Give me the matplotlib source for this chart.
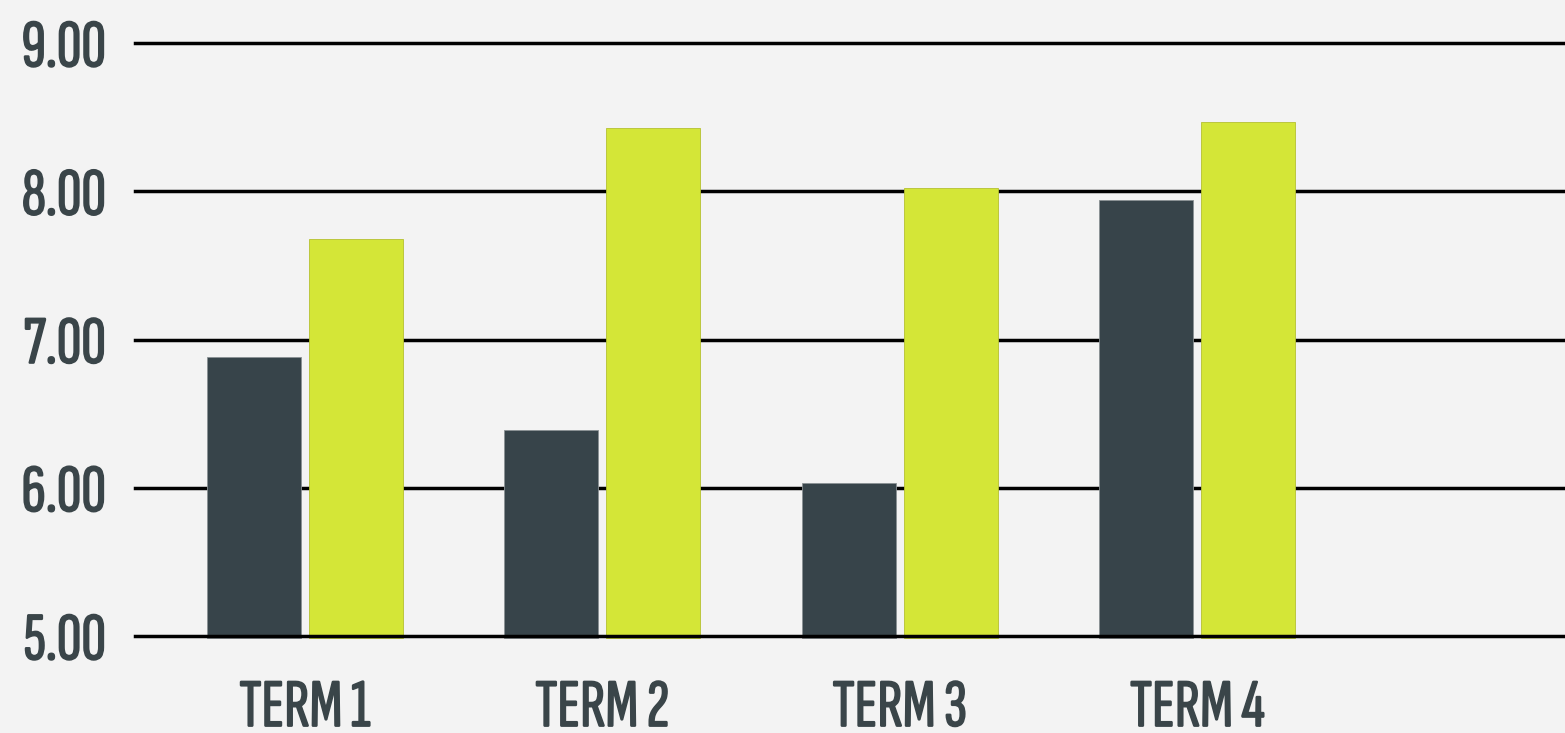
import matplotlib
matplotlib.use("Agg")
import matplotlib.pyplot as plt
import matplotlib.patheffects as pe
import numpy as np

terms = ["TERM 1", "TERM 2", "TERM 3", "TERM 4"]
dark_vals = [6.88, 6.39, 6.03, 7.94]
green_vals = [7.68, 8.43, 8.02, 8.47]
yticks = [5, 6, 7, 8, 9]

bg = "#f3f3f3"
dark = "#37444a"
green = "#d4e637"
text_col = "#3a4549"

plt.rcParams["font.family"] = ["Sofia Sans Extra Condensed", "Barlow Condensed", "DejaVu Sans"]

fig = plt.figure(figsize=(15.65, 7.33), dpi=100, facecolor=bg)
ax = fig.add_axes([135 / 1565, 97 / 733, 1 - 135 / 1565, (636 - 43) / 733])
ax.set_facecolor(bg)

x = np.arange(len(terms))
w = 0.316
ax.bar(x - 0.172, np.array(dark_vals) - 4.985, w, bottom=4.985, color=dark,
       edgecolor="#8a9194", linewidth=0.6, zorder=2, clip_on=False)
ax.bar(x + 0.172, np.array(green_vals) - 4.985, w, bottom=4.985, color=green,
       edgecolor="#b5c030", linewidth=0.6, zorder=2, clip_on=False)

for v in yticks:
    ax.axhline(v, color="black", linewidth=2.5, zorder=3 if v == 5 else 1, clip_on=False)

ax.set_ylim(5, 9)
ax.set_xlim(-0.5706, 4.236)
ax.set_yticks(yticks)
ax.set_yticklabels([f"{v:.2f}" for v in yticks], fontsize=49, fontweight="bold", color=text_col)
ax.set_xticks(x)
ax.set_xticklabels(terms, fontsize=49, fontweight="bold", color=text_col)
ax.tick_params(axis="y", length=0, pad=21)
ax.tick_params(axis="x", length=0, pad=31)
for s in ax.spines.values():
    s.set_visible(False)

# thicken the light condensed face a little
thick = [pe.withStroke(linewidth=1.2, foreground=text_col)]
for lab in ax.get_xticklabels() + ax.get_yticklabels():
    lab.set_path_effects(thick)

fig.savefig("out.png", dpi=100, facecolor=bg)
